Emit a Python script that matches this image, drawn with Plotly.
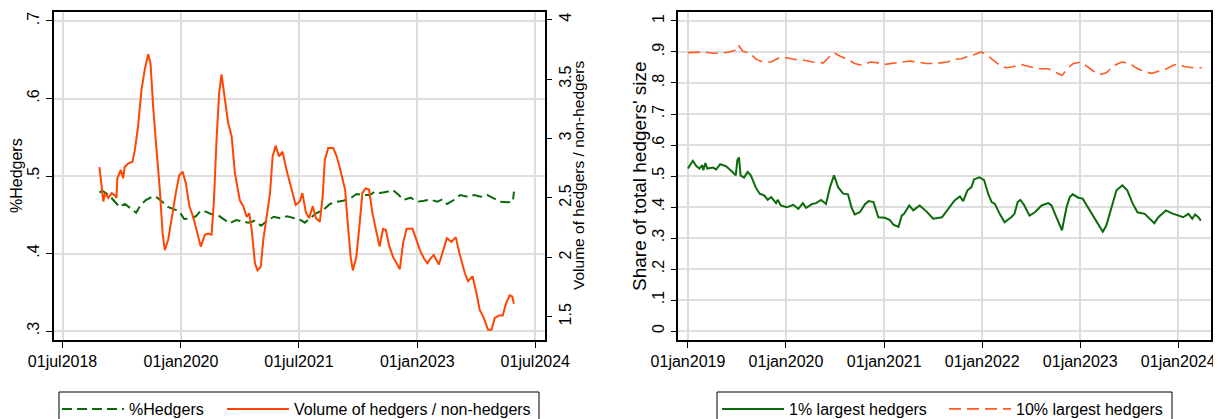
import plotly.graph_objects as go

# ---------------- Left panel data ----------------
hedg_dates = ["2018-12-19","2019-01-01","2019-02-01","2019-02-21","2019-03-22","2019-04-16","2019-05-16","2019-06-07",
              "2019-06-28","2019-07-22","2019-08-16","2019-09-07","2019-10-01","2019-11-01","2019-12-01","2019-12-25",
              "2020-01-16","2020-02-15","2020-03-10","2020-04-01","2020-04-25","2020-05-19","2020-06-19","2020-07-13",
              "2020-08-13","2020-09-13","2020-10-07","2020-11-07","2020-12-07","2021-01-07","2021-02-07","2021-03-07",
              "2021-04-07","2021-05-07","2021-06-10","2021-07-10","2021-07-28","2021-08-28","2021-09-19","2021-10-22",
              "2021-11-22","2021-12-22","2022-01-22","2022-02-25","2022-03-25","2022-04-25","2022-05-25","2022-06-19",
              "2022-07-13","2022-08-13","2022-09-10","2022-10-07","2022-10-28","2022-12-01","2023-01-01","2023-02-01",
              "2023-03-01","2023-04-04","2023-04-25","2023-05-19","2023-06-19","2023-07-19","2023-08-22","2023-09-22",
              "2023-10-22","2023-11-22","2023-12-22","2024-01-22","2024-02-22","2024-03-19","2024-03-24"]
hedg_share = [0.4785,0.481,0.4755,0.469,0.460,0.464,0.458,0.4527,
              0.4626,0.469,0.4725,0.4733,0.468,0.460,0.457,0.454,
              0.4445,0.4454,0.448,0.4552,0.454,0.451,0.4497,0.4454,
              0.439,0.4432,0.442,0.4398,0.442,0.4359,0.4432,0.4475,
              0.4454,0.448,0.4454,0.443,0.4398,0.4467,0.4519,0.4561,
              0.4639,0.4668,0.468,0.4712,0.4768,0.4755,0.4755,0.4797,
              0.478,0.4797,0.4819,0.4755,0.469,0.472,0.4668,0.468,
              0.4695,0.4668,0.4695,0.4639,0.469,0.4755,0.4733,0.4755,
              0.4733,0.4755,0.4712,0.4668,0.466,0.4668,0.4797]

vol_dates = ["2018-12-19","2018-12-30","2019-01-06","2019-01-14","2019-01-29","2019-02-14","2019-03-01","2019-03-08",
             "2019-03-12","2019-03-28","2019-04-08","2019-04-15","2019-05-01","2019-05-21","2019-06-01","2019-06-16",
             "2019-07-02","2019-07-17","2019-08-02","2019-08-13","2019-08-25","2019-09-10","2019-09-25","2019-10-08",
             "2019-10-18","2019-11-03","2019-11-19","2019-12-08","2019-12-24","2020-01-09","2020-01-24","2020-02-09",
             "2020-02-27","2020-03-13","2020-04-02","2020-04-21","2020-05-06","2020-05-22","2020-06-02","2020-06-14",
             "2020-06-26","2020-07-07","2020-07-22","2020-08-07","2020-08-23","2020-09-07","2020-09-30","2020-10-16",
             "2020-11-01","2020-11-13","2020-11-24","2020-12-09","2020-12-21","2021-01-05","2021-01-17","2021-02-02",
             "2021-02-17","2021-03-01","2021-03-15","2021-03-31","2021-04-16","2021-05-04","2021-05-24","2021-06-16",
             "2021-07-05","2021-07-17","2021-08-02","2021-08-17","2021-09-03","2021-09-18","2021-10-06","2021-10-19",
             "2021-10-29","2021-11-14","2021-12-07","2021-12-23","2022-01-11","2022-01-31","2022-02-15","2022-02-26",
             "2022-03-08","2022-03-24","2022-04-09","2022-04-21","2022-05-06","2022-05-22","2022-06-07","2022-06-25",
             "2022-07-10","2022-07-26","2022-08-08","2022-08-23","2022-09-11","2022-09-27","2022-10-12","2022-10-27",
             "2022-11-12","2022-12-10","2022-12-28","2023-01-13","2023-02-01","2023-02-17","2023-03-03","2023-03-18",
             "2023-04-11","2023-04-30","2023-05-18","2023-06-08","2023-06-28","2023-07-16","2023-08-09","2023-08-24",
             "2023-09-14","2023-10-02","2023-10-17","2023-11-05","2023-11-25","2023-12-11","2023-12-26","2024-01-15",
             "2024-02-01","2024-02-16","2024-03-04","2024-03-16","2024-03-24"]
vol_ratio = [2.76,2.57,2.47,2.54,2.50,2.54,2.52,2.50,
             2.665,2.735,2.665,2.76,2.79,2.805,2.90,3.10,
             3.41,3.58,3.71,3.63,3.27,2.90,2.57,2.20,
             2.06,2.15,2.34,2.54,2.69,2.72,2.62,2.43,
             2.34,2.23,2.09,2.19,2.20,2.19,2.48,2.99,
             3.38,3.54,3.35,3.13,3.02,2.71,2.48,2.43,
             2.34,2.37,2.23,1.95,1.89,1.92,2.15,2.34,
             2.54,2.85,2.94,2.85,2.89,2.74,2.59,2.44,
             2.47,2.54,2.38,2.33,2.43,2.33,2.30,2.51,
             2.82,2.92,2.92,2.85,2.72,2.57,2.23,2.00,
             1.89,2.00,2.29,2.54,2.58,2.57,2.37,2.20,
             2.09,2.24,2.23,2.10,2.00,1.95,1.90,2.12,
             2.24,2.24,2.15,2.06,1.99,1.95,1.99,2.02,
             1.94,2.06,2.16,2.13,2.17,2.03,1.87,1.80,
             1.84,1.70,1.56,1.49,1.39,1.39,1.49,1.51,
             1.51,1.61,1.68,1.67,1.61]

# ---------------- Right panel data ----------------
top10_dates = ["2019-01-01","2019-02-01","2019-03-01","2019-04-04","2019-05-04","2019-06-04","2019-06-28","2019-07-08",
               "2019-07-23","2019-08-19","2019-09-13","2019-10-07","2019-11-07","2019-12-07","2020-01-04","2020-02-04",
               "2020-03-04","2020-04-10","2020-05-19","2020-06-07","2020-06-28","2020-07-19","2020-08-19","2020-09-13",
               "2020-10-10","2020-11-10","2020-12-10","2021-01-04","2021-02-04","2021-03-07","2021-04-07","2021-05-07",
               "2021-06-07","2021-07-10","2021-08-10","2021-08-23","2021-09-20","2021-10-16","2021-11-10","2021-12-04",
               "2021-12-28","2022-01-16","2022-02-11","2022-03-07","2022-04-01","2022-04-25","2022-05-25","2022-06-26",
               "2022-07-28","2022-09-04","2022-10-04","2022-10-25","2022-11-16","2022-12-07","2023-01-01","2023-01-25",
               "2023-02-19","2023-03-13","2023-04-08","2023-05-04","2023-06-04","2023-07-04","2023-07-28","2023-08-23",
               "2023-09-25","2023-10-25","2023-11-19","2023-12-13","2024-01-01","2024-01-26","2024-02-28","2024-03-28"]
top10_share = [0.898,0.90,0.90,0.896,0.896,0.90,0.906,0.922,
               0.903,0.896,0.876,0.8675,0.8675,0.8815,0.8815,0.876,
               0.874,0.8675,0.865,0.8815,0.898,0.887,0.876,0.863,
               0.857,0.8675,0.865,0.860,0.863,0.8675,0.871,0.8675,
               0.863,0.863,0.865,0.8675,0.876,0.878,0.887,0.892,
               0.90,0.892,0.874,0.857,0.849,0.8525,0.860,0.8525,
               0.846,0.846,0.833,0.824,0.849,0.863,0.8675,0.8545,
               0.838,0.827,0.833,0.8545,0.8675,0.863,0.849,0.838,
               0.831,0.838,0.846,0.857,0.860,0.8525,0.849,0.849]

top1_dates = ["2019-01-01","2019-01-19","2019-02-01","2019-02-13","2019-02-23","2019-02-27","2019-03-07","2019-03-14",
              "2019-04-04","2019-04-16","2019-05-01","2019-05-22","2019-06-16","2019-06-28","2019-07-04","2019-07-10",
              "2019-07-16","2019-07-29","2019-08-11","2019-08-23","2019-09-10","2019-09-25","2019-10-13","2019-10-25",
              "2019-11-07","2019-11-25","2019-12-01","2019-12-13","2020-01-04","2020-01-28","2020-02-16","2020-03-04",
              "2020-03-16","2020-04-08","2020-04-22","2020-05-11","2020-05-29","2020-06-13","2020-06-28","2020-07-13",
              "2020-08-01","2020-08-19","2020-09-01","2020-09-13","2020-10-02","2020-10-22","2020-11-04","2020-11-22",
              "2020-12-10","2021-01-04","2021-01-22","2021-02-04","2021-02-23","2021-03-07","2021-03-16","2021-04-04",
              "2021-04-19","2021-05-13","2021-06-07","2021-07-02","2021-08-04","2021-08-13","2021-09-07","2021-09-20",
              "2021-10-10","2021-10-22","2021-11-07","2021-11-22","2021-12-01","2021-12-22","2022-01-08","2022-01-23",
              "2022-02-05","2022-02-17","2022-03-07","2022-03-25","2022-04-19","2022-05-01","2022-05-13","2022-05-23",
              "2022-06-07","2022-06-26","2022-07-16","2022-08-10","2022-09-04","2022-09-16","2022-10-04","2022-10-16",
              "2022-10-25","2022-11-11","2022-11-23","2022-12-04","2022-12-25","2023-01-10","2023-02-01","2023-02-19",
              "2023-03-07","2023-03-26","2023-04-08","2023-04-28","2023-05-16","2023-06-07","2023-06-25","2023-07-16",
              "2023-08-02","2023-08-29","2023-09-19","2023-10-04","2023-10-19","2023-11-07","2023-11-16","2023-12-07",
              "2024-01-01","2024-01-19","2024-02-08","2024-02-22","2024-03-04","2024-03-16","2024-03-25"]
top1_share = [0.524,0.549,0.532,0.524,0.535,0.519,0.542,0.524,
              0.527,0.521,0.538,0.532,0.513,0.502,0.551,0.560,
              0.502,0.495,0.513,0.502,0.464,0.443,0.437,0.423,
              0.432,0.4125,0.423,0.405,0.399,0.407,0.394,0.4125,
              0.397,0.410,0.4125,0.423,0.410,0.464,0.502,0.464,
              0.443,0.441,0.399,0.376,0.383,0.410,0.419,0.416,
              0.367,0.365,0.358,0.343,0.336,0.372,0.378,0.405,
              0.389,0.405,0.386,0.362,0.367,0.378,0.405,0.421,
              0.434,0.419,0.454,0.464,0.489,0.496,0.487,0.443,
              0.416,0.410,0.378,0.351,0.367,0.378,0.416,0.423,
              0.405,0.372,0.383,0.405,0.4125,0.405,0.367,0.345,
              0.325,0.399,0.432,0.441,0.430,0.427,0.395,0.367,
              0.345,0.320,0.340,0.399,0.454,0.470,0.454,0.410,
              0.383,0.378,0.362,0.348,0.367,0.380,0.389,0.380,
              0.372,0.367,0.378,0.362,0.376,0.367,0.356]

# ---------------- Tick labels ----------------
left_x_tickvals = ["2018-07-01", "2020-01-01", "2021-07-01", "2023-01-01", "2024-07-01"]
left_x_ticktext = ["01jul2018", "01jan2020", "01jul2021", "01jan2023", "01jul2024"]
left_y_tickvals = [0.3, 0.4, 0.5, 0.6, 0.7]
left_y_ticktext = [".3", ".4", ".5", ".6", ".7"]
left_y2_tickvals = [1.5, 2, 2.5, 3, 3.5, 4]
left_y2_ticktext = ["1.5", "2", "2.5", "3", "3.5", "4"]
right_x_tickvals = ["2019-01-01", "2020-01-01", "2021-01-01", "2022-01-01", "2023-01-01", "2024-01-01"]
right_x_ticktext = ["01jan2019", "01jan2020", "01jan2021", "01jan2022", "01jan2023", "01jan2024"]
right_y_tickvals = [0, 0.1, 0.2, 0.3, 0.4, 0.5, 0.6, 0.7, 0.8, 0.9, 1.0]
right_y_ticktext = ["0", ".1", ".2", ".3", ".4", ".5", ".6", ".7", ".8", ".9", "1"]

GREEN = "#0b6b0b"
ORANGE = "#ff4500"
FONT = "Arial, Liberation Sans, sans-serif"

# The page places the figure 8px from the top-left corner of the window,
# so the figure is sized to fill the rest of the 1221x419 window.
OFF = 8
W, H = 1221 - OFF, 419 - OFF


def px(x):  # window pixel x -> paper fraction
    return (x - OFF) / W


def py(y):  # window pixel y -> paper fraction
    return 1 - (y - OFF) / H


fig = go.Figure()
fig.add_trace(go.Scatter(x=hedg_dates, y=hedg_share, mode="lines", name="%Hedgers",
                         line=dict(color=GREEN, width=2, dash="10px,5px"),
                         xaxis="x", yaxis="y", legend="legend"))
fig.add_trace(go.Scatter(x=vol_dates, y=vol_ratio, mode="lines", name="Volume of hedgers / non-hedgers",
                         line=dict(color=ORANGE, width=2),
                         xaxis="x", yaxis="y2", legend="legend2"))
fig.add_trace(go.Scatter(x=top1_dates, y=top1_share, mode="lines", name="1% largest hedgers",
                         line=dict(color=GREEN, width=2),
                         xaxis="x2", yaxis="y3", legend="legend3"))
fig.add_trace(go.Scatter(x=top10_dates, y=top10_share, mode="lines", name="10% largest hedgers",
                         line=dict(color="#ff5a22", width=1.6, dash="12px,6px"),
                         xaxis="x2", yaxis="y3", legend="legend4"))

ydom = [py(340), py(12)]
common_axis = dict(showline=True, linecolor="black", linewidth=1.5, ticks="outside", ticklen=6,
                   tickcolor="black", tickwidth=1.2, showgrid=True, gridcolor="#dedede", gridwidth=1.5,
                   zeroline=False, automargin=False, tickfont=dict(family=FONT, size=16, color="black"))


def leg(xline):
    return dict(orientation="h", x=px(xline - 8), y=py(392), xanchor="left", yanchor="top",
                borderwidth=0, bgcolor="rgba(0,0,0,0)", itemwidth=62,
                font=dict(family=FONT, size=16, color="black"))


fig.update_layout(
    width=W, height=H, margin=dict(l=0, r=0, t=0, b=0, pad=0, autoexpand=False),
    paper_bgcolor="white", plot_bgcolor="white",
    font=dict(family=FONT, size=16, color="black"),
    xaxis=dict(domain=[px(53.5), px(545)], type="date", range=["2018-05-20", "2024-08-15"],
               tickmode="array", tickvals=left_x_tickvals, ticktext=left_x_ticktext,
               anchor="y", mirror=True, **common_axis),
    yaxis=dict(domain=ydom, range=[0.2884, 0.7116], tickmode="array", tickvals=left_y_tickvals,
               ticktext=left_y_ticktext, tickangle=-90, anchor="x", **common_axis),
    yaxis2=dict(domain=ydom, range=[1.304, 4.065], tickmode="array", tickvals=left_y2_tickvals,
                ticktext=left_y2_ticktext, tickangle=-90, overlaying="y", side="right", anchor="x",
                **{**common_axis, "showgrid": False, "ticklen": 5}),
    xaxis2=dict(domain=[px(678.3), px(1211)], type="date", range=["2018-11-26", "2024-05-02"],
                tickmode="array", tickvals=right_x_tickvals, ticktext=right_x_ticktext,
                anchor="y3", mirror=True, **common_axis),
    yaxis3=dict(domain=ydom, range=[-0.029, 1.029], tickmode="array", tickvals=right_y_tickvals,
                ticktext=right_y_ticktext, tickangle=-90, anchor="x2", mirror=True, **common_axis),
    legend=leg(65),
    legend2=leg(230),
    legend3=leg(725),
    legend4=leg(952),
    shapes=[
        dict(type="rect", xref="paper", yref="paper", x0=px(59), x1=px(539), y0=py(440), y1=py(392),
             line=dict(color="black", width=1), fillcolor="rgba(0,0,0,0)", layer="below"),
        dict(type="rect", xref="paper", yref="paper", x0=px(717), x1=px(1172), y0=py(440), y1=py(392),
             line=dict(color="black", width=1), fillcolor="rgba(0,0,0,0)", layer="below"),
    ],
    annotations=[
        dict(text="%Hedgers", x=px(17), y=py(176), xref="paper", yref="paper", showarrow=False,
             textangle=-90, font=dict(family=FONT, size=16), xanchor="center", yanchor="middle"),
        dict(text="Volume of hedgers / non-hedgers", x=px(579), y=py(176), xref="paper", yref="paper",
             showarrow=False, textangle=-90, font=dict(family=FONT, size=15.5), xanchor="center", yanchor="middle"),
        dict(text="Share of total hedgers' size", x=px(640), y=py(176), xref="paper", yref="paper",
             showarrow=False, textangle=-90, font=dict(family=FONT, size=19), xanchor="center", yanchor="middle"),
    ],
    showlegend=True,
)

fig.write_html("out.html")
